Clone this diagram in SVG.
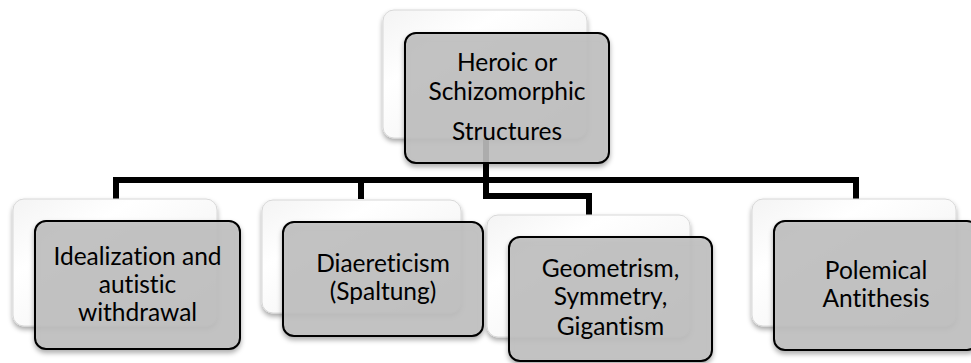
<svg xmlns="http://www.w3.org/2000/svg" width="971" height="363" viewBox="0 0 971 363">
<style>
.back{fill:url(#bg);stroke:#d8d8d8;stroke-width:1;filter:url(#sh)}
.front{fill:#bfbfbf;fill-opacity:0.88;stroke:#000;stroke-width:2;filter:url(#sh)}
.t{font-family:Lato,"Open Sans",sans-serif;font-size:24.5px;fill:#000;text-anchor:middle;font-variant-ligatures:none;font-feature-settings:"liga" 0}
.c{fill:none;stroke:#000;stroke-width:6;stroke-linejoin:miter}
</style>
<defs>
<linearGradient id="bg" x1="0" y1="0" x2="1" y2="1">
<stop offset="0" stop-color="#f4f4f4"/>
<stop offset="0.3" stop-color="#ffffff"/>
<stop offset="1" stop-color="#ededed"/>
</linearGradient>
<filter id="sh" x="-10%" y="-10%" width="120%" height="130%">
<feDropShadow dx="0" dy="3" stdDeviation="2.5" flood-color="#000" flood-opacity="0.35"/>
</filter>
</defs>
<g id="connectors">
<path class="c" d="M486,138 V180"/>
<path class="c" d="M116,199 V180 H856 V199"/>
<path class="c" d="M361,180 V199"/>
<path class="c" d="M486,180 V196 H589 V215"/>
</g>
<g id="node-root">
<rect class="back" x="383" y="10" width="204" height="128" rx="11"/>
<rect class="front" x="405" y="33" width="204" height="130" rx="11"/>
<text class="t" x="507" y="71">Heroic or</text>
<text class="t" x="507" y="100">Schizomorphic</text>
<text class="t" x="507" y="140">Structures</text>
</g>
<g id="node-idealization">
<rect class="back" x="13" y="199" width="204" height="127" rx="11"/>
<rect class="front" x="35" y="221" width="205" height="128" rx="11"/>
<text class="t" x="137.5" y="265">Idealization and</text>
<text class="t" x="137.5" y="293">autistic</text>
<text class="t" x="137.5" y="321">withdrawal</text>
</g>
<g id="node-diaereticism">
<rect class="back" x="262" y="200" width="199" height="113" rx="11"/>
<rect class="front" x="283" y="222" width="200" height="114" rx="11"/>
<text class="t" x="383" y="272">Diaereticism</text>
<text class="t" x="383" y="300">(Spaltung)</text>
</g>
<g id="node-geometrism">
<rect class="back" x="487" y="215" width="203" height="122" rx="11"/>
<rect class="front" x="509" y="237" width="203" height="124" rx="11"/>
<text class="t" x="610.5" y="277">Geometrism,</text>
<text class="t" x="610.5" y="305">Symmetry,</text>
<text class="t" x="610.5" y="335">Gigantism</text>
</g>
<g id="node-polemical">
<rect class="back" x="752" y="199" width="204" height="127" rx="11"/>
<rect class="front" x="774" y="221" width="204" height="129" rx="11"/>
<text class="t" x="876" y="279">Polemical</text>
<text class="t" x="876" y="307">Antithesis</text>
</g>
</svg>
